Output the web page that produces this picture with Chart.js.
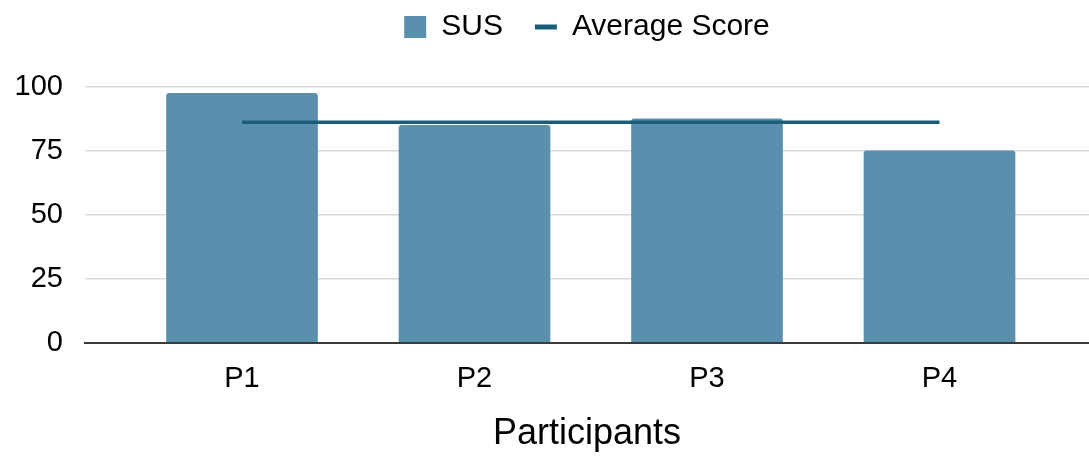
<!DOCTYPE html>
<html>
<head>
<meta charset="utf-8">
<script src="https://cdn.jsdelivr.net/npm/chart.js@4"></script>
<style>
  html, body { margin: 0; padding: 0; background: #ffffff; }
  #wrap { width: 1089px; height: 461px; position: relative; }
</style>
</head>
<body>
<div id="wrap"><canvas id="c"></canvas></div>
<script>
const categories = ['P1', 'P2', 'P3', 'P4'];
const susScores = [97.5, 85, 87.5, 75];
const averageScores = [86.25, 86.25, 86.25, 86.25];
const yTicks = [0, 25, 50, 75, 100];

const barColor = '#5a90ae';
const lineColor = '#1b5c78';
const fontFamily = '"Liberation Sans", Arial, sans-serif';

const legendFix = {
  id: 'legendFix',
  beforeLayout(chart) {
    const lg = chart.legend;
    if (lg && !lg._patched) {
      const f = lg.fit;
      lg.fit = function () { f.call(this); this.height = 107; };
      lg._patched = true;
    }
  }
};

new Chart(document.getElementById('c'), {
  type: 'bar',
  data: {
    datasets: [
      {
        type: 'bar',
        label: 'SUS',
        data: susScores.map((v, i) => ({ x: i, y: v })),
        backgroundColor: barColor,
        barThickness: 151,
        borderRadius: { topLeft: 3, topRight: 3, bottomLeft: 0, bottomRight: 0 },
        borderSkipped: false,
        order: 1
      },
      {
        type: 'line',
        label: 'Average Score',
        data: averageScores.map((v, i) => ({ x: i, y: v })),
        borderColor: lineColor,
        backgroundColor: lineColor,
        borderWidth: 3.5,
        pointRadius: 0,
        fill: false,
        tension: 0,
        order: 0
      }
    ]
  },
  options: {
    responsive: true,
    maintainAspectRatio: false,
    animation: false,
    layout: { padding: { top: -20, left: 0, right: 0, bottom: 0 } },
    plugins: {
      tooltip: { enabled: false },
      legend: {
        position: 'top',
        fullSize: false,
        labels: {
          usePointStyle: true,
          pointStyleWidth: 22,
          boxHeight: 22,
          padding: 32,
          color: '#555555',
          font: { family: fontFamily, size: 30 },
          generateLabels: () => [
            { text: 'SUS', fillStyle: barColor, strokeStyle: barColor, lineWidth: 0, pointStyle: 'rect', hidden: false, datasetIndex: 0 },
            { text: 'Average Score', fillStyle: lineColor, strokeStyle: lineColor, lineWidth: 5, pointStyle: 'line', hidden: false, datasetIndex: 1 }
          ]
        }
      }
    },
    scales: {
      x: {
        type: 'linear',
        offset: false,
        min: -0.6753,
        max: 3.643,
        afterBuildTicks: s => { s.ticks = categories.map((_, i) => ({ value: i })); },
        afterFit: s => { s.height = 118.5; },
        grid: { display: false, drawTicks: false, offset: false },
        border: { display: true, color: '#3a3a3a', width: 2 },
        ticks: {
          padding: 19,
          color: '#000000',
          font: { family: fontFamily, size: 29 },
          callback: v => categories[v] ?? ''
        },
        title: {
          display: true,
          text: 'Participants',
          color: '#000000',
          font: { family: fontFamily, size: 36 },
          padding: { top: 0, bottom: 5 }
        }
      },
      y: {
        min: 0,
        max: 100,
        afterBuildTicks: s => { s.ticks = yTicks.map(v => ({ value: v })); },
        afterFit: s => { s.width = 85; },
        grid: { color: '#d9d9d9', lineWidth: 1.5, drawTicks: false },
        border: { display: false },
        ticks: {
          padding: 22,
          color: '#000000',
          font: { family: fontFamily, size: 29 }
        }
      }
    }
  },
  plugins: [legendFix]
});
</script>
</body>
</html>
